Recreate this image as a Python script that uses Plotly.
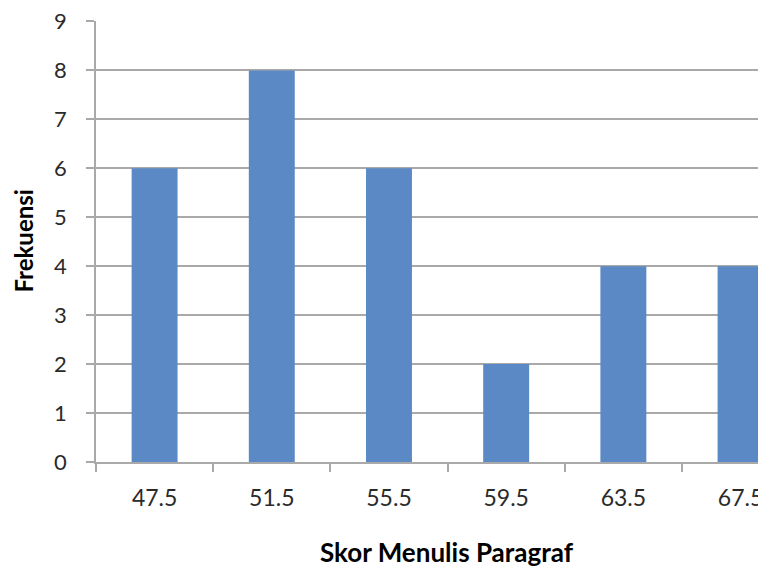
import plotly.graph_objects as go

categories = ["47.5", "51.5", "55.5", "59.5", "63.5", "67.5"]
frekuensi = [6, 8, 6, 2, 4, 4]
y_ticks = [0, 1, 2, 3, 4, 5, 6, 7, 8, 9]

FONT = "Lato, Carlito, Calibri, sans-serif"
GRID = "#a9a9a9"
TXT = "#2a2a2a"

fig = go.Figure(go.Bar(x=categories, y=frekuensi, marker=dict(color="#5A89C5", line=dict(width=0))))

# page body has an 8px margin, so the figure is sized/offset to compensate
fig.update_layout(
    width=758, height=559,
    margin=dict(l=88, r=0, t=13, b=105, autoexpand=False),
    paper_bgcolor="white", plot_bgcolor="white",
    bargap=0.608,
    showlegend=False,
    font=dict(family=FONT, color=TXT),
    annotations=[
        dict(text="<b>Skor Menulis Paragraf</b>", xref="paper", yref="paper",
             x=0.524, y=0, yshift=-90, xanchor="center", yanchor="middle",
             showarrow=False, font=dict(size=26, color="#000000", family=FONT)),
        dict(text="<b>Frekuensi</b>", xref="paper", yref="paper",
             x=0, xshift=-73, y=0.5, xanchor="center", yanchor="middle", textangle=-90,
             showarrow=False, font=dict(size=24, color="#000000", family=FONT)),
    ],
)
fig.update_xaxes(
    type="category", range=[-0.5, 5.217], automargin=False,
    showgrid=False, showline=True, linecolor=GRID, linewidth=1.5,
    ticks="outside", ticklen=8, tickcolor=GRID, tickwidth=1.5, tickson="boundaries",
    tickfont=dict(size=23, color=TXT, family=FONT), ticklabelstandoff=15,
    ticklabeloverflow="allow",
)
fig.update_yaxes(
    range=[0, 9.01], tickvals=y_ticks, automargin=False,
    showgrid=True, gridcolor=GRID, gridwidth=1.5,
    showline=True, linecolor=GRID, linewidth=1.5, zeroline=False,
    ticks="outside", ticklen=8, tickcolor=GRID, tickwidth=1.5,
    tickfont=dict(size=22, color=TXT, family=FONT), ticklabelstandoff=15,
    ticklabeloverflow="allow",
)

fig.write_html(
    "out.html",
    post_script="document.documentElement.style.overflow='hidden';document.body.style.overflow='hidden';",
)
